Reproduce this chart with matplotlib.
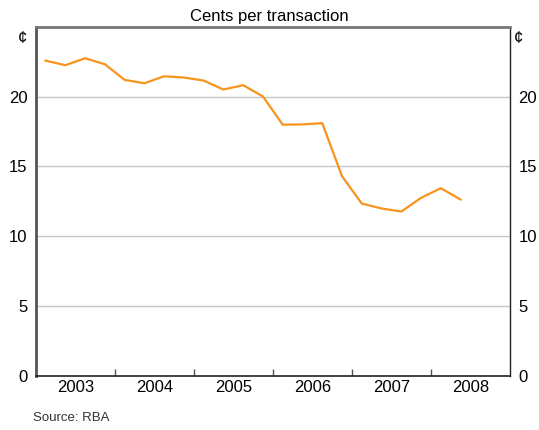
import numpy as np
import matplotlib.pyplot as plt
from matplotlib.ticker import FixedLocator, NullFormatter

# quarterly data, 2003 Q1 - 2008 Q2
quarters = np.arange(22)
cents = [22.57, 22.24, 22.74, 22.31, 21.19, 20.95, 21.45, 21.36, 21.14, 20.5, 20.81, 20.0,
         17.98, 18.0, 18.09, 14.29, 12.33, 11.98, 11.76, 12.74, 13.43, 12.62]
years = [2003, 2004, 2005, 2006, 2007, 2008]
yticks = [0, 5, 10, 15, 20]

x = 2003 + (quarters + 0.5) / 4

plt.rcParams['font.family'] = ['Liberation Sans', 'DejaVu Sans']

fig = plt.figure(figsize=(5.39, 4.30), dpi=100)
ax = fig.add_axes([0.0662, 0.1263, 0.88, 0.8116])

ax.plot(x, cents, color='#F7941D', lw=1.6)

ax.set_xlim(2003, 2009)
ax.set_ylim(0, 25)

# grid
for yv in yticks[1:]:
    ax.axhline(yv, color='#C3C7CC', lw=1, zorder=0)

# year boundary ticks, labels in the middle
ax.xaxis.set_major_locator(FixedLocator(range(2004, 2009)))
ax.xaxis.set_major_formatter(NullFormatter())
ax.xaxis.set_minor_locator(FixedLocator([yr + 0.5 for yr in years]))
ax.set_xticklabels([str(yr) for yr in years], minor=True)
ax.tick_params(axis='x', which='major', direction='in', length=5, color='#555555', width=1)
ax.tick_params(axis='x', which='minor', length=0, labelsize=12, pad=3)

ax.set_yticks(yticks)
ax.tick_params(axis='y', length=0, labelsize=12, pad=6, labelright=True, right=False)

ax.spines['left'].set_color('#555555')
ax.spines['left'].set_linewidth(2)
ax.spines['top'].set_color('#777777')
ax.spines['top'].set_linewidth(2)
ax.spines['right'].set_color('#222222')
ax.spines['right'].set_linewidth(1)
ax.spines['bottom'].set_color('#222222')
ax.spines['bottom'].set_linewidth(1.2)

fig.text(0.5, 0.962, 'Cents per transaction', ha='center', va='center', fontsize=12)
fig.text(0.042, 0.91, '¢', ha='center', va='center', fontsize=12)
fig.text(0.962, 0.91, '¢', ha='center', va='center', fontsize=12)
fig.text(0.062, 0.013, 'Source: RBA', ha='left', va='bottom', fontsize=9.5, color='#333333')

fig.savefig('out.png', dpi=100)
